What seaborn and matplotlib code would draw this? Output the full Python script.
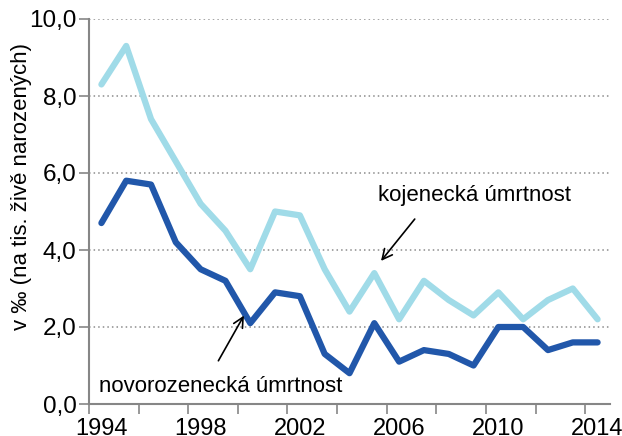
import matplotlib
matplotlib.use("Agg")
import matplotlib.pyplot as plt
import matplotlib.ticker as mticker
import seaborn as sns
import pandas as pd

# Data (per mille)
years = list(range(1994, 2015))
kojenecka = [8.3, 9.3, 7.4, 6.3, 5.2, 4.5, 3.5, 5.0, 4.9, 3.5, 2.4,
             3.4, 2.2, 3.2, 2.7, 2.3, 2.9, 2.2, 2.7, 3.0, 2.2]
novorozenecka = [4.7, 5.8, 5.7, 4.2, 3.5, 3.2, 2.1, 2.9, 2.8, 1.3, 0.8,
                 2.1, 1.1, 1.4, 1.3, 1.0, 2.0, 2.0, 1.4, 1.6, 1.6]
label_years = [1994, 1998, 2002, 2006, 2010, 2014]
y_ticks = [0, 2, 4, 6, 8, 10]

df = pd.DataFrame({'rok': years, 'kojenecka': kojenecka, 'novorozenecka': novorozenecka})

sns.set_style("white")
plt.rcParams['font.family'] = ['Liberation Sans', 'DejaVu Sans']
plt.rcParams['text.color'] = 'black'
plt.rcParams['axes.labelcolor'] = 'black'
plt.rcParams['xtick.labelcolor'] = 'black'
plt.rcParams['ytick.labelcolor'] = 'black'

fig = plt.figure(figsize=(6.22, 4.36), dpi=100)
ax = fig.add_axes([89 / 622, 1 - 404 / 436, 521 / 622, 385 / 436])

# dotted horizontal grid
for v in y_ticks[1:]:
    ax.axhline(v, color='#8c8c8c', ls=(0, (1, 2)), lw=1.1, zorder=0)

sns.lineplot(data=df, x='rok', y='kojenecka', color='#a0dbe8', lw=4.5, ax=ax)
sns.lineplot(data=df, x='rok', y='novorozenecka', color='#2157aa', lw=4.5, ax=ax)

ax.set_xlim(1993.5, 2014.5)
ax.set_ylim(0, 10)

# tick marks between categories, labels every 4 years
ax.set_xticks([1993.5 + 2 * k for k in range(11)])
ax.set_xticklabels([])
ax.set_xticks(label_years, minor=True)
ax.set_xticklabels([str(y) for y in label_years], minor=True, fontsize=17)
ax.tick_params(axis='x', which='major', direction='out', length=7, width=1.2,
               color='#868686', bottom=True)
ax.tick_params(axis='x', which='minor', length=0, pad=10)

ax.set_yticks(y_ticks)
ax.yaxis.set_major_formatter(mticker.FuncFormatter(lambda v, p: f"{v:.1f}".replace('.', ',')))
ax.tick_params(axis='y', direction='out', length=7, width=1.2, color='#868686',
               labelsize=17.5, pad=2, left=True)

for s in ['top', 'right']:
    ax.spines[s].set_visible(False)
for s in ['left', 'bottom']:
    ax.spines[s].set_color('#868686')
    ax.spines[s].set_linewidth(1.5)

ax.set_xlabel('')
ax.set_ylabel('v ‰ (na tis. živě narozených)', fontsize=16)
ax.yaxis.set_label_coords(-0.109, 0.564)

# annotations
ax.annotate('', xy=(2005.2, 3.66), xytext=(2006.7, 4.86),
            arrowprops=dict(arrowstyle='->', color='black', lw=1.2, mutation_scale=18))
ax.text(2005.15, 5.42, 'kojenecká úmrtnost', fontsize=16, va='center', ha='left')
ax.annotate('', xy=(1999.8, 2.36), xytext=(1998.66, 1.06),
            arrowprops=dict(arrowstyle='->', color='black', lw=1.2, mutation_scale=18))
ax.text(1993.9, 0.45, 'novorozenecká úmrtnost', fontsize=16, va='center', ha='left')

fig.savefig('out.png', dpi=100)
